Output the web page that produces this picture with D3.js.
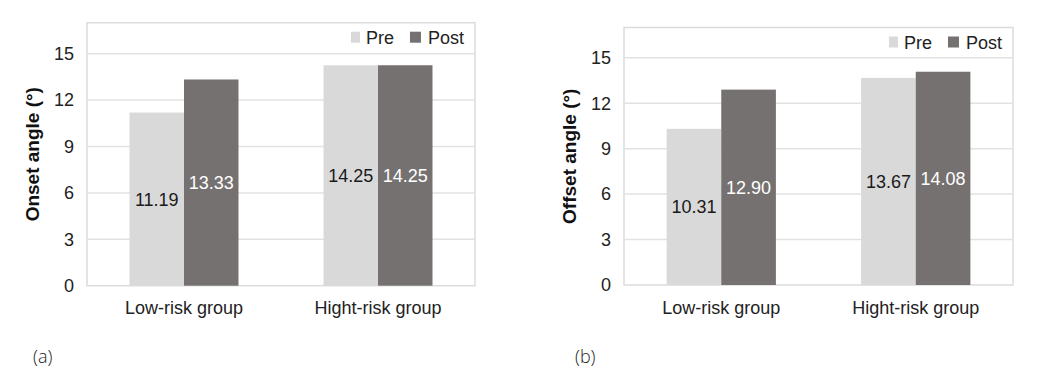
<!DOCTYPE html>
<html>
<head>
<meta charset="utf-8">
<script src="https://cdn.jsdelivr.net/npm/d3@7"></script>
<style>
  html, body { margin: 0; padding: 0; background: #fff; }
  svg { display: block; font-family: "Liberation Sans", Arial, sans-serif; }
</style>
</head>
<body>
<svg id="chart" width="1039" height="386"></svg>
<script>
const categories = ["Low-risk group", "Hight-risk group"];
const seriesNames = ["Pre", "Post"];
const onsetPre = [11.19, 14.25];
const onsetPost = [13.33, 14.25];
const offsetPre = [10.31, 13.67];
const offsetPost = [12.90, 14.08];
const yTicks = [0, 3, 6, 9, 12, 15];
const yMax = 17;

const colors = { Pre: "#d9d9d9", Post: "#767171" };
const labelColors = { Pre: "#1a1a1a", Post: "#ffffff" };

const svg = d3.select("#chart");

function drawPanel(opts) {
  const { left, right, top, bottom, pre, post, title, tag, tagX } = opts;
  const g = svg.append("g");
  const x = d3.scaleBand().domain(categories).range([left, right]).paddingInner(0).paddingOuter(0);
  const inner = d3.scaleBand().domain(seriesNames).range([0, x.bandwidth()]).paddingInner(0).paddingOuter(0.78);
  const y = d3.scaleLinear().domain([0, yMax]).range([bottom, top]);

  g.append("rect").attr("x", left).attr("y", top).attr("width", right - left).attr("height", bottom - top)
    .attr("fill", "#fff").attr("stroke", "#dcdcdc").attr("stroke-width", 1.5);

  g.selectAll("line.grid").data(yTicks.filter(d => d > 0)).enter().append("line")
    .attr("x1", left).attr("x2", right)
    .attr("y1", d => y(d)).attr("y2", d => y(d))
    .attr("stroke", "#e2e2e2").attr("stroke-width", 1.5);

  const yAxis = d3.axisLeft(y).tickValues(yTicks).tickSize(0).tickPadding(13);
  const ya = g.append("g").attr("transform", `translate(${left},0)`).call(yAxis);
  ya.select(".domain").remove();
  ya.selectAll("text").attr("font-size", 18).attr("fill", "#222").attr("font-family", "Liberation Sans, Arial, sans-serif");

  const xAxis = d3.axisBottom(x).tickSize(0).tickPadding(16);
  const xa = g.append("g").attr("transform", `translate(0,${bottom})`).call(xAxis);
  xa.select(".domain").remove();
  xa.selectAll("text").attr("font-size", 18).attr("fill", "#222").attr("font-family", "Liberation Sans, Arial, sans-serif");

  const rows = [];
  categories.forEach((c, i) => {
    rows.push({ cat: c, s: "Pre", v: pre[i] });
    rows.push({ cat: c, s: "Post", v: post[i] });
  });

  g.selectAll("rect.bar").data(rows).enter().append("rect")
    .attr("x", d => x(d.cat) + inner(d.s))
    .attr("width", inner.bandwidth())
    .attr("y", d => y(d.v))
    .attr("height", d => y(0) - y(d.v))
    .attr("fill", d => colors[d.s]);

  g.selectAll("text.val").data(rows).enter().append("text")
    .attr("x", d => x(d.cat) + inner(d.s) + inner.bandwidth() / 2)
    .attr("y", d => y(d.v / 2))
    .attr("dy", "0.36em")
    .attr("text-anchor", "middle")
    .attr("font-size", 18)
    .attr("fill", d => labelColors[d.s])
    .text(d => d.v.toFixed(2));

  g.append("text")
    .attr("transform", `translate(${left - 48},${(top + bottom) / 2}) rotate(-90)`)
    .attr("text-anchor", "middle")
    .attr("font-size", 19).attr("font-weight", "bold").attr("fill", "#111")
    .text(title);

  const legY = top + 21;
  const postTextX = right - 11;
  const lg = g.append("g");
  const postT = lg.append("text").attr("x", postTextX).attr("y", legY).attr("text-anchor", "end")
    .attr("font-size", 18).attr("fill", "#222").text("Post");
  const postW = postT.node().getComputedTextLength();
  lg.append("rect").attr("x", postTextX - postW - 18).attr("y", legY - 12).attr("width", 11).attr("height", 11).attr("fill", colors.Post);
  const preEnd = postTextX - postW - 18 - 16;
  const preT = lg.append("text").attr("x", preEnd).attr("y", legY).attr("text-anchor", "end")
    .attr("font-size", 18).attr("fill", "#222").text("Pre");
  const preW = preT.node().getComputedTextLength();
  lg.append("rect").attr("x", preEnd - preW - 15).attr("y", legY - 12).attr("width", 9).attr("height", 11).attr("fill", colors.Pre);

  g.append("text").attr("x", tagX).attr("y", 363).attr("font-size", 18).attr("fill", "#222")
    .attr("font-family", "Open Sans, sans-serif").attr("font-weight", 300).text(tag);
}

drawPanel({ left: 87, right: 475, top: 22.7, bottom: 285.7, pre: onsetPre, post: onsetPost,
  title: "Onset angle (°)", tag: "(a)", tagX: 33 });
drawPanel({ left: 624, right: 1013, top: 27.5, bottom: 285, pre: offsetPre, post: offsetPost,
  title: "Offset angle (°)", tag: "(b)", tagX: 575 });
</script>
</body>
</html>
